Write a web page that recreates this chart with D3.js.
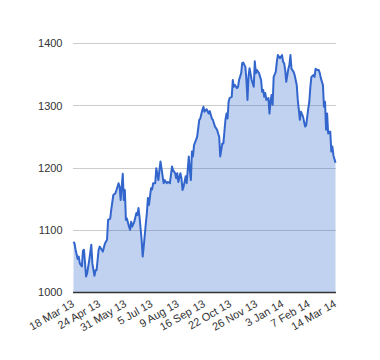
<!DOCTYPE html>
<html><head><meta charset="utf-8">
<script src="https://cdn.jsdelivr.net/npm/d3@7"></script>
<style>body{margin:0;background:#fff}svg{display:block}text{font-family:Arial,"Liberation Sans",sans-serif}</style>
</head><body><svg id="c" width="380" height="360"></svg>
<script>
const tickLabels = ["18 Mar 13","24 Apr 13","31 May 13","5 Jul 13","9 Aug 13","16 Sep 13","22 Oct 13","26 Nov 13","3 Jan 14","7 Feb 14","14 Mar 14"];
const tickIndex = [0,25,50,75,100,125,150,175,200,225,250];
const yTicks = [1000,1100,1200,1300,1400];
const dayIndex = [0,1,2,4,5,6,8,9,10,12,13,15,17,18,20,21,22,24,25,27,28,30,32,33,35,36,38,40,41,43,44,45,47,48,49,50,51,53,54,55,56,58,60,61,62,63,65,66,67,69,70,71,72,74,75,76,78,79,81,82,83,
86,87,89,90,92,94,95,97,98,99,100,102,103,104,105,107,108,110,111,112,113,114,115,117,118,120,121,123,124,125,127,129,130,132,133,135,137,138,139,140,142,143,145,146,147,148,149,151,152,153,154,156,157,158,160,161,162,164,165,166,167,168,
170,172,173,174,175,177,179,180,181,182,183,184,186,187,188,189,190,191,193,194,195,197,199,200,201,202,203,205,206,207,208,210,211,213,214,216,217,219,220,221,222,224,225,226,227,229,230,231,233,234,235,236,238,239,240,241,242,243,245,246,247,248,250];
const values = [1081,1078,1068,1053,1057,1046,1041,1066,1068,1025,1030,1051,1076,1046,1026,1035,1035,1068,1073,1068,1065,1078,1084,1116,1118,1132,1156,1159,1164,1175,1169,1148,1190,1148,1164,1116,1118,1105,1100,1113,1105,1113,1127,1124,1135,1121,1084,1057,1073,1110,1127,1151,1140,1167,1165,1175,1175,1199,1180,1196,1210,
1175,1180,1175,1177,1175,1202,1196,1191,1183,1191,1177,1191,1183,1164,1169,1186,1175,1218,1196,1180,1226,1218,1236,1245,1250,1277,1279,1293,1298,1290,1294,1287,1291,1279,1277,1266,1261,1255,1250,1218,1239,1239,1277,1287,1279,1306,1312,1314,1341,1330,1333,1328,1330,1341,1352,1368,1369,1362,1341,1309,1346,1360,
1341,1330,1371,1352,1357,1352,1341,1322,1325,1314,1320,1309,1312,1287,1306,1317,1301,1346,1354,1370,1381,1376,1381,1370,1368,1357,1338,1359,1365,1381,1359,1354,1349,1333,1309,1277,1290,1282,1274,1266,1268,1295,1306,1330,1346,1349,1346,1359,1357,1357,1352,1344,1333,1298,1306,1261,1287,1255,1258,1226,1234,1220,1208];

const data = dayIndex.map((d,i)=>({x:d,y:values[i]}));
const svg = d3.select("#c");
const L=73.5,R=335.5,T=43.3,B=292;
const x = d3.scaleLinear().domain([0,250]).range([L,R]);
const y = d3.scaleLinear().domain([1000,1400]).range([B,T]);

// grid
svg.append("g").selectAll("line").data(yTicks.slice(1)).join("line")
 .attr("x1",L-0.5).attr("x2",R+0.5).attr("y1",d=>Math.round(y(d))+0.5).attr("y2",d=>Math.round(y(d))+0.5)
 .attr("stroke","#cccccc").attr("stroke-width",1);

// area
svg.append("path").datum(data)
 .attr("d",d3.area().x(d=>x(d.x)).y0(y(1000)).y1(d=>y(d.y)))
 .attr("fill","#3366cc").attr("fill-opacity",0.3);
svg.append("path").datum(data)
 .attr("d",d3.line().x(d=>x(d.x)).y(d=>y(d.y)))
 .attr("fill","none").attr("stroke","#3366cc").attr("stroke-width",2).attr("stroke-linejoin","round");

// baseline
svg.append("line").attr("x1",L-0.5).attr("x2",R+0.5).attr("y1",B+0.5).attr("y2",B+0.5).attr("stroke","#333333").attr("stroke-width",1.5);

// y axis
const ya = d3.axisLeft(y).tickValues(yTicks).tickSize(0).tickPadding(11).tickFormat(d3.format("d"));
const gy = svg.append("g").attr("transform",`translate(${L},0)`).call(ya);
gy.select(".domain").remove();
gy.selectAll("text").attr("font-size",11).attr("fill","#333").attr("font-family","Arial");

// x axis
const xa = d3.axisBottom(x).tickValues(tickIndex).tickSize(0).tickFormat((d,i)=>tickLabels[i]);
const gx = svg.append("g").attr("transform",`translate(0,${B})`).call(xa);
gx.select(".domain").remove();
gx.selectAll("text").attr("font-size",11).attr("fill","#333").attr("font-family","Arial")
 .attr("text-anchor","end").attr("dy",null).attr("y",null)
 .attr("transform","translate(1,14) rotate(-30)");
</script></body></html>
